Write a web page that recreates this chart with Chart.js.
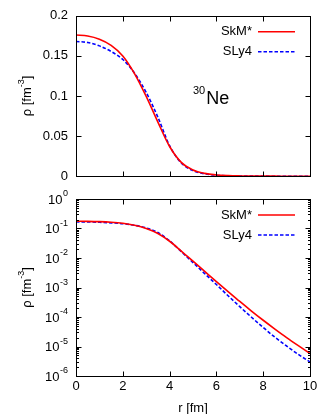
<!DOCTYPE html>
<html>
<head>
<meta charset="utf-8">
<script src="https://cdn.jsdelivr.net/npm/chart.js@4"></script>
<style>
html, body { margin: 0; padding: 0; background: #fff; }
#wrap { position: relative; width: 325px; height: 414px; }
canvas { position: absolute; left: 0; }
</style>
</head>
<body>
<div id="wrap">
  <canvas id="linChart" width="325" height="192" style="top:0px"></canvas>
  <canvas id="logChart" width="325" height="228" style="top:186px"></canvas>
</div>
<script>
// radius in fm
const rValues = [0, 0.5, 1, 1.5, 2, 2.5, 3, 3.5, 4, 4.5, 5, 5.5, 6, 6.5, 7, 7.5, 8, 8.5, 9, 9.5, 10];
// density rho [fm^-3]
const skmValues = [0.1760, 0.1748, 0.1708, 0.1632, 0.1500, 0.1280, 0.0995, 0.0675, 0.0370, 0.0172,
                   0.0078, 0.00352, 0.00159, 0.000728, 0.000336, 0.000159, 0.0000776, 0.0000391, 0.0000201, 0.0000107, 0.0000058];
const sly4Values = [0.1680, 0.1667, 0.1625, 0.1555, 0.1455, 0.1285, 0.1045, 0.0735, 0.0380, 0.0165,
                    0.0070, 0.00295, 0.00126, 0.000525, 0.000224, 0.000098, 0.0000442, 0.0000207, 0.0000104, 0.0000054, 0.0000030];
const seriesNames = ['SkM*', 'SLy4'];
const xTickValues = [0, 2, 4, 6, 8, 10];
const linTickValues = [0, 0.05, 0.1, 0.15, 0.2];
const logExponents = [0, -1, -2, -3, -4, -5, -6];
const nucleusMass = '30';
const nucleusName = 'Ne';

const FONT = '"Liberation Sans", Arial, sans-serif';

function makeDatasets() {
    return [
        {
            label: seriesNames[0],
            data: rValues.map((r, i) => ({ x: r, y: skmValues[i] })),
            borderColor: '#ff0000',
            borderWidth: 1.6,
            pointRadius: 0,
            cubicInterpolationMode: 'monotone',
            fill: false
        },
        {
            label: seriesNames[1],
            data: rValues.map((r, i) => ({ x: r, y: sly4Values[i] })),
            borderColor: '#0000ff',
            borderWidth: 1.6,
            borderDash: [3.5, 2],
            pointRadius: 0,
            cubicInterpolationMode: 'monotone',
            fill: false
        }
    ];
}

// gnuplot style frame, inward ticks on all sides, legend, labels
const gnuFrame = {
    id: 'gnuFrame',
    afterDraw(chart, args, opts) {
        const ctx = chart.ctx;
        const a = chart.chartArea;
        const xs = chart.scales.x;
        const ys = chart.scales.y;
        const L = Math.round(a.left) + 0.5, R = Math.round(a.right) + 0.5;
        const T = Math.round(a.top) + 0.5, B = Math.round(a.bottom) + 0.5;
        ctx.save();
        ctx.strokeStyle = '#000';
        ctx.lineWidth = 1;
        ctx.setLineDash([]);
        ctx.strokeRect(L, T, R - L, B - T);

        ctx.beginPath();
        xTickValues.forEach(v => {
            const px = Math.round(xs.getPixelForValue(v)) + 0.5;
            ctx.moveTo(px, B); ctx.lineTo(px, B - 5);
            ctx.moveTo(px, T); ctx.lineTo(px, T + 5);
        });
        if (opts.log) {
            logExponents.forEach(e => {
                const py = Math.round(ys.getPixelForValue(Math.pow(10, e))) + 0.5;
                ctx.moveTo(L, py); ctx.lineTo(L + 5, py);
                ctx.moveTo(R, py); ctx.lineTo(R - 5, py);
                if (e > -6) {
                    for (let m = 2; m <= 9; m++) {
                        const my = Math.round(ys.getPixelForValue(m * Math.pow(10, e - 1))) + 0.5;
                        ctx.moveTo(L, my); ctx.lineTo(L + 2.5, my);
                        ctx.moveTo(R, my); ctx.lineTo(R - 2.5, my);
                    }
                }
            });
        } else {
            linTickValues.forEach(v => {
                const py = Math.round(ys.getPixelForValue(v)) + 0.5;
                ctx.moveTo(L, py); ctx.lineTo(L + 5, py);
                ctx.moveTo(R, py); ctx.lineTo(R - 5, py);
            });
        }
        ctx.stroke();

        ctx.fillStyle = '#000';
        // log tick labels 10^n
        if (opts.log) {
            logExponents.forEach(e => {
                const py = ys.getPixelForValue(Math.pow(10, e));
                ctx.font = '9px ' + FONT;
                const sup = String(e);
                const sw = ctx.measureText(sup).width;
                ctx.textAlign = 'right';
                ctx.textBaseline = 'middle';
                ctx.fillText(sup, 68, py - 5);
                ctx.font = '13px ' + FONT;
                ctx.fillText('10', 68 - sw - 0.5, py + 1);
            });
        }

        // y axis title: rho [fm^-3]
        ctx.save();
        ctx.translate(27, (a.top + a.bottom) / 2);
        ctx.rotate(-Math.PI / 2);
        ctx.textAlign = 'left';
        ctx.textBaseline = 'middle';
        ctx.font = '13px ' + FONT;
        const p1 = 'ρ [fm', p3 = ']';
        const w1 = ctx.measureText(p1).width, w3 = ctx.measureText(p3).width;
        ctx.font = '9px ' + FONT;
        const p2 = '-3';
        const w2 = ctx.measureText(p2).width;
        let x0 = -(w1 + w2 + w3) / 2;
        ctx.font = '13px ' + FONT;
        ctx.fillText(p1, x0, 0);
        ctx.font = '9px ' + FONT;
        ctx.fillText(p2, x0 + w1, -5);
        ctx.font = '13px ' + FONT;
        ctx.fillText(p3, x0 + w1 + w2, 0);
        ctx.restore();

        // legend
        chart.data.datasets.forEach((ds, i) => {
            const ly = a.top + 16 + i * 20;
            ctx.font = '13px ' + FONT;
            ctx.textAlign = 'right';
            ctx.textBaseline = 'middle';
            ctx.fillStyle = '#000';
            ctx.fillText(ds.label, 252, ly);
            ctx.strokeStyle = ds.borderColor;
            ctx.lineWidth = ds.borderWidth;
            ctx.setLineDash(ds.borderDash || []);
            ctx.beginPath();
            ctx.moveTo(258, ly);
            ctx.lineTo(295, ly);
            ctx.stroke();
        });
        ctx.setLineDash([]);

        // nucleus label
        if (opts.nucleus) {
            ctx.fillStyle = '#000';
            ctx.textAlign = 'left';
            ctx.textBaseline = 'alphabetic';
            ctx.font = '11px ' + FONT;
            ctx.fillText(nucleusMass, 193, 94);
            const mw = ctx.measureText(nucleusMass).width;
            ctx.font = '18px ' + FONT;
            ctx.fillText(nucleusName, 193 + mw + 1, 104);
        }
        ctx.restore();
    }
};

function baseOptions(topPad, xHeight) {
    return {
        responsive: false,
        animation: false,
        events: [],
        layout: { padding: { top: topPad, right: 15, left: 0, bottom: 0 } },
        plugins: { legend: { display: false }, tooltip: { enabled: false } },
        scales: {
            x: {
                type: 'linear',
                min: 0,
                max: 10,
                afterFit(scale) { scale.height = xHeight; },
                grid: { display: false, drawTicks: false },
                border: { display: false },
                ticks: { display: false, stepSize: 2 }
            },
            y: {
                afterFit(scale) { scale.width = 76; },
                grid: { display: false, drawTicks: false },
                border: { display: false }
            }
        }
    };
}

// top panel, linear
const linOpts = baseOptions(7, 8);
linOpts.plugins.gnuFrame = { log: false, nucleus: true };
linOpts.scales.y.type = 'linear';
linOpts.scales.y.min = linTickValues[0];
linOpts.scales.y.max = linTickValues[linTickValues.length - 1];
linOpts.scales.y.ticks = {
    stepSize: 0.05,
    padding: 8,
    color: '#000',
    font: { family: FONT, size: 13 },
    callback: v => String(+v.toFixed(2))
};

new Chart(document.getElementById('linChart').getContext('2d'), {
    type: 'line',
    data: { datasets: makeDatasets() },
    options: linOpts,
    plugins: [gnuFrame]
});

// bottom panel, log
const logOpts = baseOptions(13, 38);
logOpts.plugins.gnuFrame = { log: true, nucleus: false };
logOpts.scales.x.ticks = {
    display: true,
    stepSize: 2,
    padding: 3,
    maxRotation: 0,
    color: '#000',
    font: { family: FONT, size: 13 }
};
logOpts.scales.x.title = {
    display: true,
    text: 'r [fm]',
    color: '#000',
    padding: { top: 0, bottom: 0 },
    font: { family: FONT, size: 13, lineHeight: 0.9 }
};
logOpts.scales.y.type = 'logarithmic';
logOpts.scales.y.min = Math.pow(10, logExponents[logExponents.length - 1]);
logOpts.scales.y.max = Math.pow(10, logExponents[0]);
logOpts.scales.y.ticks = { display: false };

new Chart(document.getElementById('logChart').getContext('2d'), {
    type: 'line',
    data: { datasets: makeDatasets() },
    options: logOpts,
    plugins: [gnuFrame]
});
</script>
</body>
</html>
